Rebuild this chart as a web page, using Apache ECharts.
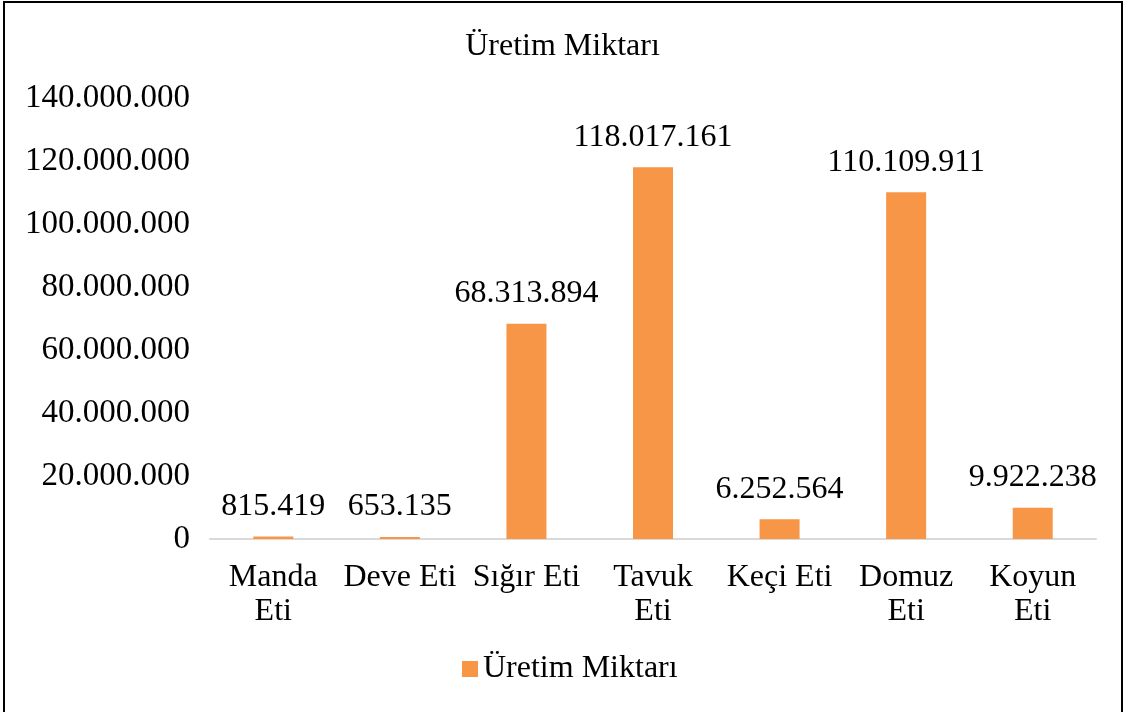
<!DOCTYPE html>
<html>
<head>
<meta charset="utf-8">
<script src="https://cdn.jsdelivr.net/npm/echarts@6/dist/echarts.min.js"></script>
<style>
html, body { margin: 0; padding: 0; background: #fff; }
#chart { width: 1125px; height: 712px; }
</style>
</head>
<body>
<div id="chart"></div>
<script>
// categories and values
var categories = ['Manda\nEti', 'Deve Eti', 'Sığır Eti', 'Tavuk\nEti', 'Keçi Eti', 'Domuz\nEti', 'Koyun\nEti'];
var values = [815419, 653135, 68313894, 118017161, 6252564, 110109911, 9922238];
var seriesName = 'Üretim Miktarı';
var titleText = 'Üretim Miktarı';

var FONT = 'Liberation Serif';

function fmt(v) {
	return String(v).replace(/\B(?=(\d{3})+(?!\d))/g, '.');
}

var chart = echarts.init(document.getElementById('chart'));
chart.setOption({
	animation: false,
	textStyle: { fontFamily: FONT },
	title: {
		text: titleText,
		left: 'center',
		top: 26,
		textStyle: { fontFamily: FONT, fontSize: 32, fontWeight: 'normal', color: '#000' }
	},
	graphic: [{
		type: 'rect',
		shape: { x: 4, y: 2, width: 1118, height: 720 },
		style: { fill: null, stroke: '#000', lineWidth: 2 },
		silent: true
	}],
	legend: {
		bottom: 22,
		left: 457,
		itemWidth: 16,
		itemHeight: 16,
		itemGap: 6,
		icon: 'rect',
		textStyle: { fontFamily: FONT, fontSize: 32, color: '#000' },
		data: [{ name: seriesName, textStyle: { fontFamily: FONT, fontSize: 32 } }]
	},
	grid: { left: 210, right: 29, top: 98, bottom: 173, containLabel: false },
	xAxis: {
		type: 'category',
		data: categories,
		axisLine: { lineStyle: { color: '#d9d9d9', width: 2 } },
		axisTick: { show: false },
		axisLabel: {
			fontFamily: FONT, fontSize: 32, color: '#000',
			margin: 22, lineHeight: 34, interval: 0
		}
	},
	yAxis: {
		type: 'value',
		min: 0,
		max: 140000000,
		interval: 20000000,
		splitLine: { show: false },
		axisLine: { show: false },
		axisTick: { show: false },
		axisLabel: {
			fontFamily: FONT, fontSize: 33, color: '#000', margin: 20,
			formatter: function (v) { return fmt(v); }
		}
	},
	series: [{
		name: seriesName,
		type: 'bar',
		data: values,
		barWidth: 40,
		itemStyle: { color: '#F79646' },
		label: {
			show: true,
			position: 'top',
			distance: 14,
			fontFamily: FONT, fontSize: 32, color: '#000',
			formatter: function (p) { return fmt(p.value); }
		}
	}]
});
</script>
</body>
</html>
